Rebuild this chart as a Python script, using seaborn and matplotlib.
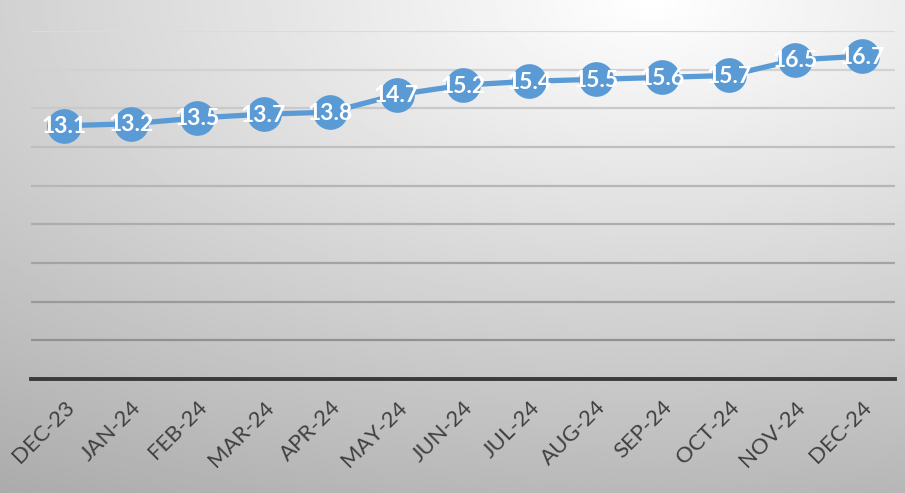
import numpy as np
import matplotlib
matplotlib.use("Agg")
import matplotlib.pyplot as plt
import seaborn as sns
import pandas as pd

# data
months = ["DEC-23", "JAN-24", "FEB-24", "MAR-24", "APR-24", "MAY-24", "JUN-24",
          "JUL-24", "AUG-24", "SEP-24", "OCT-24", "NOV-24", "DEC-24"]
values = [13.1, 13.2, 13.5, 13.7, 13.8, 14.7, 15.2, 15.4, 15.5, 15.6, 15.7, 16.5, 16.7]

df = pd.DataFrame({"month": months, "value": values})

sns.set_theme(style="white")
plt.rcParams["font.family"] = ["Lato", "DejaVu Sans"]

fig = plt.figure(figsize=(9.05, 4.93), dpi=100)

# gradient background, light at top-right, darker towards bottom-left
bg = fig.add_axes([0, 0, 1, 1], zorder=0)
gx, gy = np.meshgrid(np.linspace(0, 1, 400), np.linspace(0, 1, 220))
dist = np.sqrt(((gx - 0.72) * 1.0) ** 2 + ((gy - 0.0) * 1.1) ** 2)
shade = np.clip(1.0 - 0.25 * dist, 0, 1)
bg.imshow(shade, cmap="gray", vmin=0, vmax=1, aspect="auto", extent=[0, 1, 0, 1])
bg.axis("off")

ax = fig.add_axes([31 / 905, 1 - 379 / 493, 864 / 905, 348 / 493], zorder=1)
ax.patch.set_alpha(0)

sns.lineplot(data=df, x="month", y="value", ax=ax, color="#5B9BD5",
             linewidth=3.8, marker="o", markersize=25, markeredgewidth=0,
             sort=False, zorder=3)

for i, v in enumerate(values):
    ax.text(i, v - 0.05, f"{v}", ha="center", va="center", color="white",
            fontsize=16.5, fontweight="bold", zorder=4)

ax.set_xlim(-0.5, len(months) - 0.5)
ax.set_ylim(0, 18)
ax.set_yticks(np.arange(0, 19, 2))
ax.set_yticklabels([])
ax.set_xlabel("")
ax.set_ylabel("")
ax.tick_params(axis="both", length=0)

ax.grid(axis="y", linewidth=1.6)
lines = ax.get_ygridlines()
n = len(lines)
for k, gl in enumerate(lines):
    t = k / (n - 1)
    c = 0.53 + 0.33 * t
    gl.set_color((c, c, c))
    gl.set_zorder(1)

for s in ["top", "left", "right"]:
    ax.spines[s].set_visible(False)
ax.spines["bottom"].set_color("#3a3a3a")
ax.spines["bottom"].set_linewidth(2.8)

ax.set_xticks(range(len(months)))
ax.set_xticklabels(months, rotation=45, ha="right", rotation_mode="anchor",
                   fontsize=16, color="#404040")
ax.tick_params(axis="x", pad=13)

fig.savefig("out.png", dpi=100)
